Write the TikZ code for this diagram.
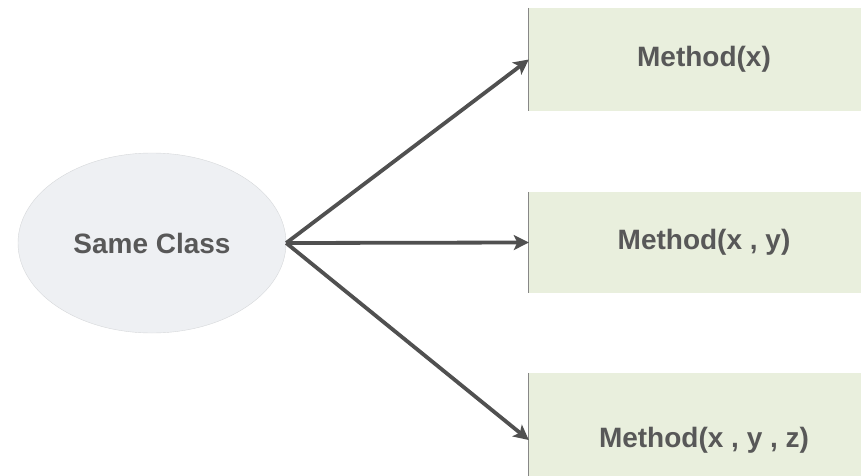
\documentclass[tikz,border=0pt]{standalone}
\usepackage{fontspec}
\setmainfont{Liberation Sans}
\usetikzlibrary{shapes.geometric, arrows.meta, positioning}
\definecolor{ovgrey}{RGB}{238,240,243}
\definecolor{ovline}{RGB}{214,216,218}
\definecolor{mbox}{RGB}{233,239,221}
\definecolor{mline}{RGB}{135,135,135}
\definecolor{txtgrey}{RGB}{88,88,88}
\definecolor{arrgrey}{RGB}{80,80,80}

\begin{document}
\begin{tikzpicture}[x=1pt, y=1pt,
  cls/.style={ellipse, draw=ovline, fill=ovgrey, minimum width=268pt, minimum height=180pt, inner sep=0pt, text=txtgrey, font=\fontsize{28}{32}\selectfont\bfseries},
  meth/.style={rectangle, fill=mbox, minimum width=350pt, inner sep=0pt, text=txtgrey, font=\fontsize{28}{32}\selectfont\bfseries},
  arr/.style={-{Stealth[length=15pt, width=15pt, inset=3.5pt]}, line width=3.8pt, draw=arrgrey}
]
\clip (0,0) rectangle (861,475);
\node[cls] (same) at (152,232) {Same Class};
\node[meth, minimum height=103pt] (m1) at (704,415.5) {Method(x)};
\node[meth, minimum height=101pt] (m2) at (704,232.5) {Method(x , y)};
\node[meth, minimum height=134pt] (m3) at (704,35) {Method(x , y , z)};
\foreach \m in {m1,m2,m3}
  \draw[mline, line width=1pt] (\m.north west) -- (\m.south west);
\draw[arr] (same.east) -- (m1.west);
\draw[arr] (same.east) -- (m2.west);
\draw[arr] (same.east) -- (m3.west);
\end{tikzpicture}
\end{document}
